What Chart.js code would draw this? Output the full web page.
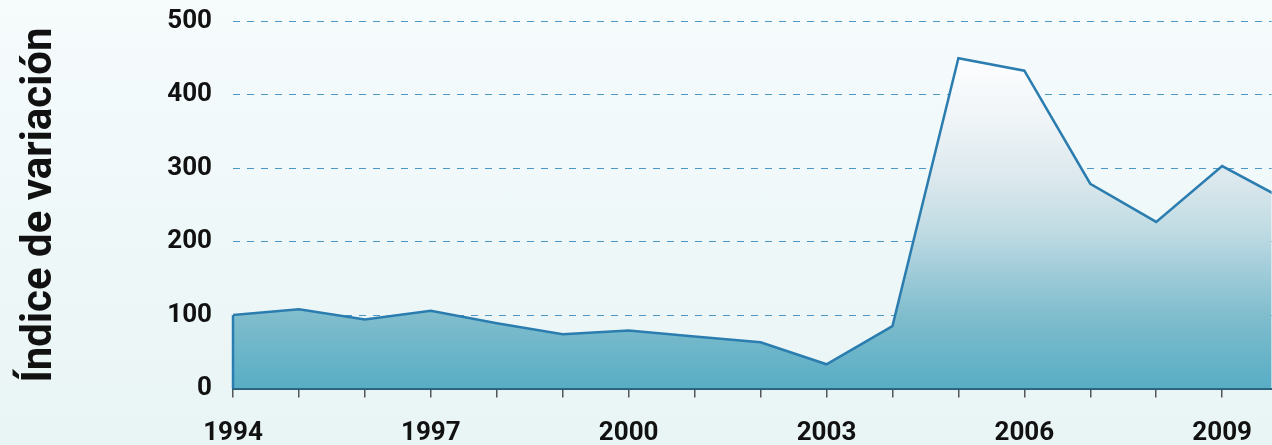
<!DOCTYPE html>
<html lang="es">
<head>
<meta charset="utf-8">
<title>Índice de variación</title>
<script src="https://cdn.jsdelivr.net/npm/chart.js@4.4.1/dist/chart.umd.min.js"></script>
<style>
  html, body { margin: 0; padding: 0; }
  body {
    width: 1272px;
    height: 445px;
    overflow: hidden;
    background: linear-gradient(180deg, #f6fbfc 0%, #eff8f9 50%, #e9f4f5 100%);
  }
  #wrap { position: relative; width: 1272px; height: 445px; }
</style>
</head>
<body>
<div id="wrap"><canvas id="variationChart"></canvas></div>
<script>
// yearly index values, 1994 to 2010
const years = [1994, 1995, 1996, 1997, 1998, 1999, 2000, 2001, 2002, 2003, 2004, 2005, 2006, 2007, 2008, 2009, 2010];
const values = [100, 108, 94, 106, 89, 74, 79, 71, 63, 33, 85, 450, 433, 279, 227, 303, 255];
const labeledYears = [1994, 1997, 2000, 2003, 2006, 2009];
const yTicks = [0, 100, 200, 300, 400, 500];

const points = years.map((y, i) => ({ x: y, y: values[i] }));
// left edge of the area, from zero up to the first value
const edge = [{ x: years[0], y: 0 }, { x: years[0], y: values[0] }];

const lineColor = "#2b7db0";
const labelFont = { family: "Roboto", weight: "bold", size: 26 };

function areaFill(context) {
  const chart = context.chart;
  const area = chart.chartArea;
  if (!area) return "#7dbccd";
  const g = chart.ctx.createLinearGradient(0, area.top, 0, area.bottom);
  g.addColorStop(0.0, "#ffffff");
  g.addColorStop(0.1, "#fdfeff");
  g.addColorStop(0.27, "#eff4f7");
  g.addColorStop(0.43, "#dbe8ed");
  g.addColorStop(0.57, "#c0dbe3");
  g.addColorStop(0.65, "#a9d0dc");
  g.addColorStop(0.8, "#80bdcd");
  g.addColorStop(1.0, "#58adc5");
  return g;
}

const ctx = document.getElementById("variationChart").getContext("2d");
new Chart(ctx, {
  type: "line",
  data: {
    datasets: [
      {
        data: edge,
        borderColor: lineColor,
        borderWidth: 2.5,
        pointRadius: 0,
        fill: false,
        order: 0,
        clip: false,
      },
      {
        data: points,
        borderColor: lineColor,
        borderWidth: 2.5,
        backgroundColor: areaFill,
        pointRadius: 0,
        tension: 0,
        fill: "origin",
        order: 1,
      },
    ],
  },
  options: {
    responsive: true,
    maintainAspectRatio: false,
    animation: false,
    layout: {
      padding: { top: 21.5, right: 0, bottom: 0, left: 0 },
    },
    plugins: {
      legend: { display: false },
      tooltip: { enabled: false },
    },
    scales: {
      x: {
        type: "linear",
        min: years[0],
        max: 2009.75,
        afterFit: (scale) => { scale.height = 56.5; },
        ticks: {
          stepSize: 1,
          includeBounds: false,
          autoSkip: false,
          maxRotation: 0,
          padding: 20,
          color: "#111",
          font: labelFont,
          callback: (v) => (labeledYears.includes(v) ? String(v) : ""),
        },
        grid: {
          drawOnChartArea: false,
          drawTicks: true,
          tickLength: 9,
          color: "#555",
          lineWidth: 1.5,
        },
        border: { display: true, color: "#2a5f7a", width: 2 },
      },
      y: {
        min: 0,
        max: 500,
        afterFit: (scale) => { scale.width = 233; },
        afterBuildTicks: (scale) => {
          scale.ticks = yTicks.map((v) => ({ value: v }));
        },
        ticks: {
          padding: 0,
          color: "#111",
          font: labelFont,
        },
        grid: {
          drawTicks: true,
          tickLength: 21,
          tickColor: "rgba(0,0,0,0)",
          color: "#4d97c4",
          lineWidth: 1,
        },
        border: { display: false, dash: [7, 7] },
        title: {
          display: true,
          text: "Índice de variación",
          color: "#111",
          font: { family: "Roboto", weight: "bold", size: 42 },
          padding: { top: 15, bottom: 0 },
        },
      },
    },
  },
});
</script>
</body>
</html>
